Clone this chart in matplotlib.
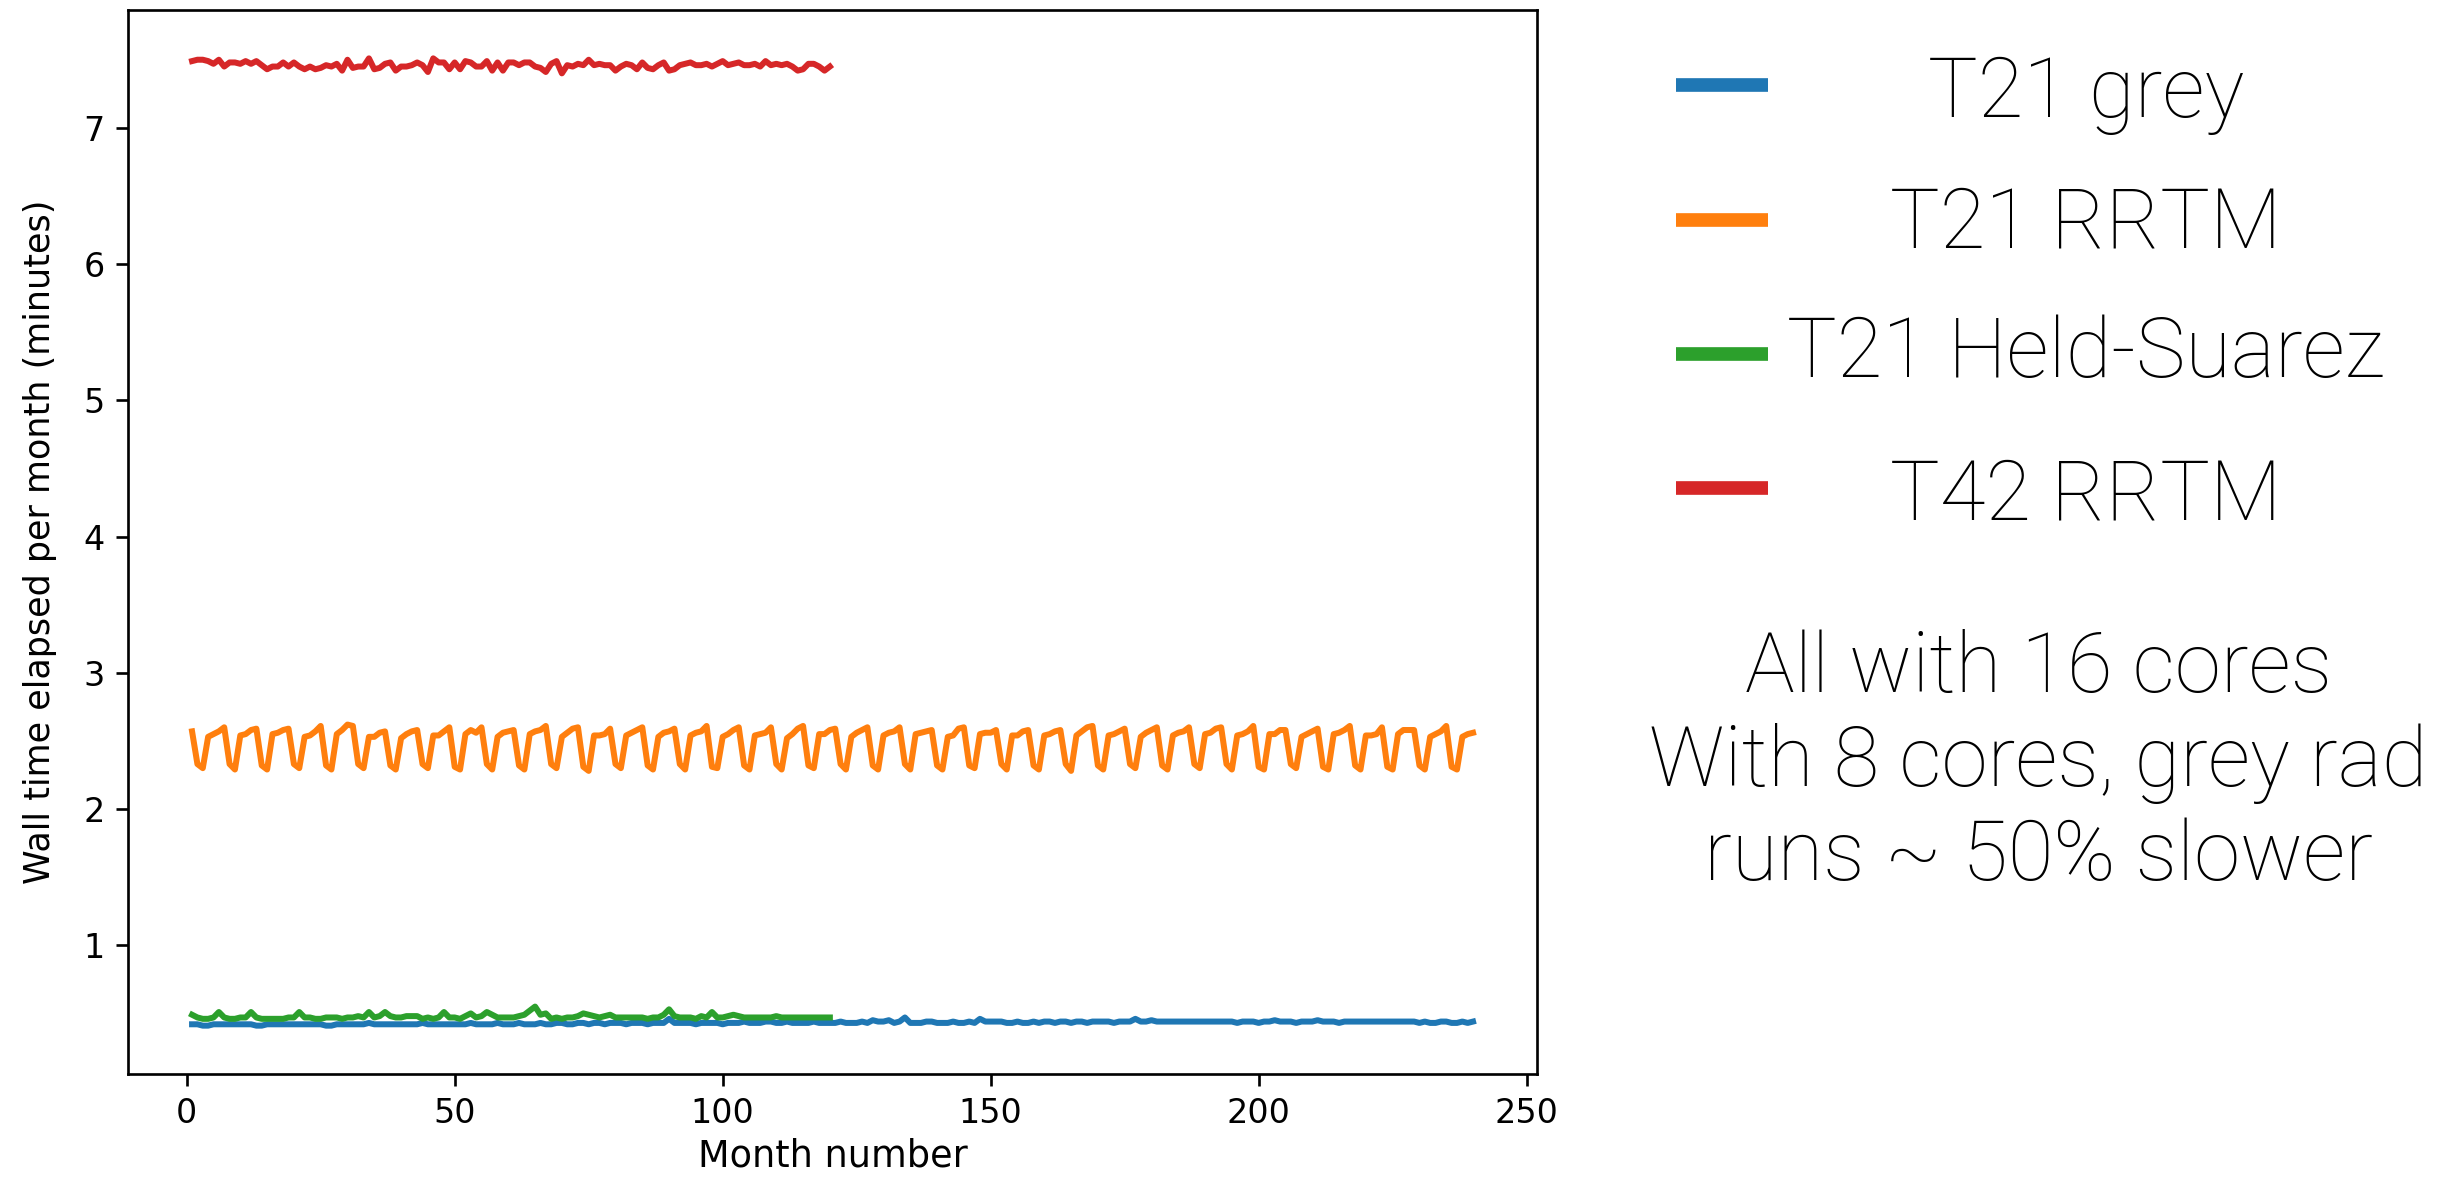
import numpy as np
import matplotlib
matplotlib.use("Agg")
import matplotlib.pyplot as plt
from matplotlib.lines import Line2D

# months of the runs
months_long = np.arange(1, 241)
months_short = np.arange(1, 121)

# T21 grey (240 months)
t21_grey = [
    0.42, 0.42, 0.41, 0.41, 0.42, 0.42, 0.42, 0.42, 0.42, 0.42,
    0.42, 0.42, 0.41, 0.41, 0.42, 0.42, 0.42, 0.42, 0.42, 0.42,
    0.42, 0.42, 0.42, 0.42, 0.42, 0.41, 0.41, 0.42, 0.42, 0.42,
    0.42, 0.42, 0.42, 0.43, 0.42, 0.42, 0.42, 0.42, 0.42, 0.42,
    0.42, 0.42, 0.42, 0.43, 0.42, 0.42, 0.42, 0.42, 0.42, 0.42,
    0.42, 0.42, 0.43, 0.42, 0.42, 0.42, 0.42, 0.43, 0.42, 0.42,
    0.42, 0.43, 0.42, 0.42, 0.42, 0.43, 0.42, 0.42, 0.43, 0.43,
    0.42, 0.42, 0.43, 0.43, 0.42, 0.43, 0.43, 0.42, 0.43, 0.43,
    0.43, 0.42, 0.43, 0.43, 0.43, 0.42, 0.43, 0.43, 0.43, 0.46,
    0.43, 0.43, 0.43, 0.43, 0.42, 0.43, 0.43, 0.43, 0.43, 0.42,
    0.43, 0.43, 0.43, 0.44, 0.43, 0.43, 0.43, 0.44, 0.44, 0.43,
    0.43, 0.44, 0.43, 0.43, 0.43, 0.43, 0.44, 0.43, 0.43, 0.43,
    0.43, 0.44, 0.43, 0.43, 0.43, 0.44, 0.43, 0.45, 0.44, 0.44,
    0.45, 0.43, 0.44, 0.47, 0.43, 0.43, 0.43, 0.44, 0.44, 0.43,
    0.43, 0.43, 0.44, 0.43, 0.43, 0.44, 0.43, 0.46, 0.44, 0.44,
    0.44, 0.44, 0.43, 0.43, 0.44, 0.43, 0.43, 0.44, 0.43, 0.44,
    0.44, 0.43, 0.44, 0.44, 0.43, 0.44, 0.44, 0.43, 0.44, 0.44,
    0.44, 0.44, 0.43, 0.44, 0.44, 0.44, 0.46, 0.44, 0.44, 0.45,
    0.44, 0.44, 0.44, 0.44, 0.44, 0.44, 0.44, 0.44, 0.44, 0.44,
    0.44, 0.44, 0.44, 0.44, 0.44, 0.43, 0.44, 0.44, 0.44, 0.43,
    0.44, 0.44, 0.45, 0.44, 0.44, 0.44, 0.43, 0.44, 0.44, 0.44,
    0.45, 0.44, 0.44, 0.44, 0.43, 0.44, 0.44, 0.44, 0.44, 0.44,
    0.44, 0.44, 0.44, 0.44, 0.44, 0.44, 0.44, 0.44, 0.44, 0.43,
    0.44, 0.43, 0.43, 0.44, 0.44, 0.43, 0.43, 0.44, 0.43, 0.44,
]

# T21 RRTM (240 months), 6-month cycle
t21_rrtm = [
    2.57, 2.33, 2.30, 2.53, 2.55, 2.57,
    2.60, 2.33, 2.29, 2.54, 2.55, 2.58,
    2.59, 2.32, 2.29, 2.55, 2.56, 2.58,
    2.59, 2.33, 2.30, 2.53, 2.54, 2.57,
    2.61, 2.32, 2.29, 2.55, 2.58, 2.62,
    2.61, 2.33, 2.30, 2.53, 2.53, 2.56,
    2.57, 2.32, 2.29, 2.52, 2.55, 2.57,
    2.58, 2.33, 2.30, 2.54, 2.54, 2.57,
    2.60, 2.31, 2.29, 2.55, 2.58, 2.56,
    2.60, 2.33, 2.29, 2.53, 2.56, 2.57,
    2.58, 2.32, 2.29, 2.55, 2.57, 2.58,
    2.61, 2.33, 2.30, 2.53, 2.56, 2.59,
    2.60, 2.31, 2.28, 2.54, 2.54, 2.55,
    2.59, 2.33, 2.30, 2.54, 2.56, 2.58,
    2.60, 2.32, 2.29, 2.53, 2.56, 2.57,
    2.59, 2.33, 2.29, 2.54, 2.56, 2.57,
    2.61, 2.31, 2.30, 2.53, 2.55, 2.58,
    2.60, 2.32, 2.29, 2.54, 2.55, 2.56,
    2.60, 2.33, 2.29, 2.52, 2.55, 2.59,
    2.61, 2.32, 2.30, 2.55, 2.55, 2.58,
    2.59, 2.33, 2.29, 2.53, 2.56, 2.58,
    2.60, 2.32, 2.29, 2.54, 2.56, 2.57,
    2.60, 2.33, 2.29, 2.55, 2.56, 2.57,
    2.58, 2.32, 2.29, 2.53, 2.54, 2.59,
    2.60, 2.32, 2.30, 2.55, 2.56, 2.56,
    2.58, 2.33, 2.29, 2.54, 2.54, 2.57,
    2.58, 2.32, 2.29, 2.54, 2.55, 2.57,
    2.58, 2.33, 2.28, 2.54, 2.57, 2.60,
    2.61, 2.32, 2.29, 2.54, 2.55, 2.57,
    2.59, 2.33, 2.30, 2.53, 2.56, 2.58,
    2.60, 2.32, 2.29, 2.54, 2.56, 2.57,
    2.60, 2.33, 2.30, 2.55, 2.56, 2.59,
    2.60, 2.33, 2.29, 2.54, 2.55, 2.57,
    2.61, 2.31, 2.29, 2.55, 2.55, 2.58,
    2.58, 2.33, 2.30, 2.53, 2.55, 2.57,
    2.59, 2.31, 2.29, 2.55, 2.56, 2.58,
    2.61, 2.32, 2.29, 2.54, 2.54, 2.55,
    2.60, 2.31, 2.29, 2.55, 2.58, 2.58,
    2.58, 2.32, 2.29, 2.53, 2.55, 2.57,
    2.61, 2.31, 2.29, 2.53, 2.55, 2.56,
]

# T21 Held-Suarez (120 months)
t21_hs = [
    0.49, 0.47, 0.46, 0.46, 0.47, 0.51, 0.47, 0.46, 0.46, 0.47,
    0.47, 0.51, 0.47, 0.46, 0.46, 0.46, 0.46, 0.46, 0.47, 0.47,
    0.51, 0.47, 0.47, 0.46, 0.46, 0.47, 0.47, 0.47, 0.46, 0.47,
    0.47, 0.48, 0.47, 0.51, 0.47, 0.48, 0.51, 0.48, 0.47, 0.47,
    0.48, 0.48, 0.48, 0.46, 0.47, 0.46, 0.47, 0.51, 0.47, 0.47,
    0.46, 0.48, 0.50, 0.47, 0.48, 0.51, 0.49, 0.47, 0.47, 0.47,
    0.47, 0.48, 0.49, 0.52, 0.55, 0.49, 0.50, 0.46, 0.47, 0.46,
    0.47, 0.47, 0.48, 0.50, 0.49, 0.48, 0.47, 0.48, 0.49, 0.47,
    0.47, 0.47, 0.47, 0.47, 0.47, 0.46, 0.47, 0.47, 0.49, 0.53,
    0.48, 0.47, 0.47, 0.47, 0.46, 0.48, 0.47, 0.51, 0.47, 0.47,
    0.48, 0.49, 0.48, 0.47, 0.47, 0.47, 0.47, 0.47, 0.47, 0.48,
    0.47, 0.47, 0.47, 0.47, 0.47, 0.47, 0.47, 0.47, 0.47, 0.47,
]

# T42 RRTM (120 months)
t42_rrtm = [
    7.49, 7.50, 7.50, 7.49, 7.47, 7.50, 7.45, 7.48, 7.48, 7.47,
    7.49, 7.47, 7.49, 7.46, 7.43, 7.45, 7.45, 7.48, 7.45, 7.48,
    7.45, 7.43, 7.45, 7.43, 7.44, 7.46, 7.45, 7.47, 7.42, 7.50,
    7.44, 7.45, 7.45, 7.51, 7.43, 7.44, 7.47, 7.48, 7.42, 7.45,
    7.45, 7.46, 7.48, 7.46, 7.41, 7.51, 7.48, 7.48, 7.43, 7.48,
    7.43, 7.49, 7.48, 7.45, 7.45, 7.49, 7.42, 7.48, 7.42, 7.48,
    7.48, 7.46, 7.48, 7.48, 7.45, 7.44, 7.41, 7.47, 7.49, 7.40,
    7.46, 7.45, 7.47, 7.46, 7.50, 7.46, 7.47, 7.46, 7.46, 7.42,
    7.45, 7.47, 7.46, 7.43, 7.48, 7.44, 7.43, 7.46, 7.48, 7.42,
    7.43, 7.46, 7.47, 7.48, 7.46, 7.46, 7.47, 7.45, 7.47, 7.49,
    7.46, 7.47, 7.48, 7.46, 7.46, 7.47, 7.45, 7.49, 7.46, 7.47,
    7.46, 7.47, 7.45, 7.42, 7.43, 7.47, 7.47, 7.45, 7.42, 7.45,
]

labels = ["T21 grey", "T21 RRTM", "T21 Held-Suarez", "T42 RRTM"]
colors = ["tab:blue", "tab:orange", "tab:green", "tab:red"]
note = ["All with 16 cores", "With 8 cores, grey rad", "runs ~ 50% slower"]

fig = plt.figure(figsize=(2457 / 240, 1177 / 240), dpi=240)
ax = fig.add_axes([0.0521, 0.0875, 0.5735, 0.904])

ax.plot(months_long, t21_grey, color=colors[0], lw=1.8)
ax.plot(months_long, t21_rrtm, color=colors[1], lw=1.8)
ax.plot(months_short, t21_hs, color=colors[2], lw=1.8)
ax.plot(months_short, t42_rrtm, color=colors[3], lw=1.8)

ax.set_xlabel("Month number", fontsize=11, labelpad=2)
ax.set_ylabel("Wall time elapsed per month (minutes)", fontsize=10.5, labelpad=8)
ax.set_xticks([0, 50, 100, 150, 200, 250])

# big slide-style legend on the right
big = dict(family=["Roboto", "DejaVu Sans"], weight="light", size=25)
line_y = [0.9278, 0.8134, 0.6992, 0.5854]
text_y = [0.9006, 0.7901, 0.6797, 0.5590]
for lab, col, ly, ty in zip(labels, colors, line_y, text_y):
    fig.add_artist(Line2D([0.6821, 0.7196], [ly, ly], color=col, lw=4.1,
                          solid_capstyle="butt", transform=fig.transFigure))
    fig.text(0.8490, ty, lab, ha="center", va="baseline", fontdict=big)

note_y = [0.4121, 0.3322, 0.2523]
for line, ny in zip(note, note_y):
    fig.text(0.8295, ny, line, ha="center", va="baseline", fontdict=big)

fig.savefig("out.png", dpi=240)
